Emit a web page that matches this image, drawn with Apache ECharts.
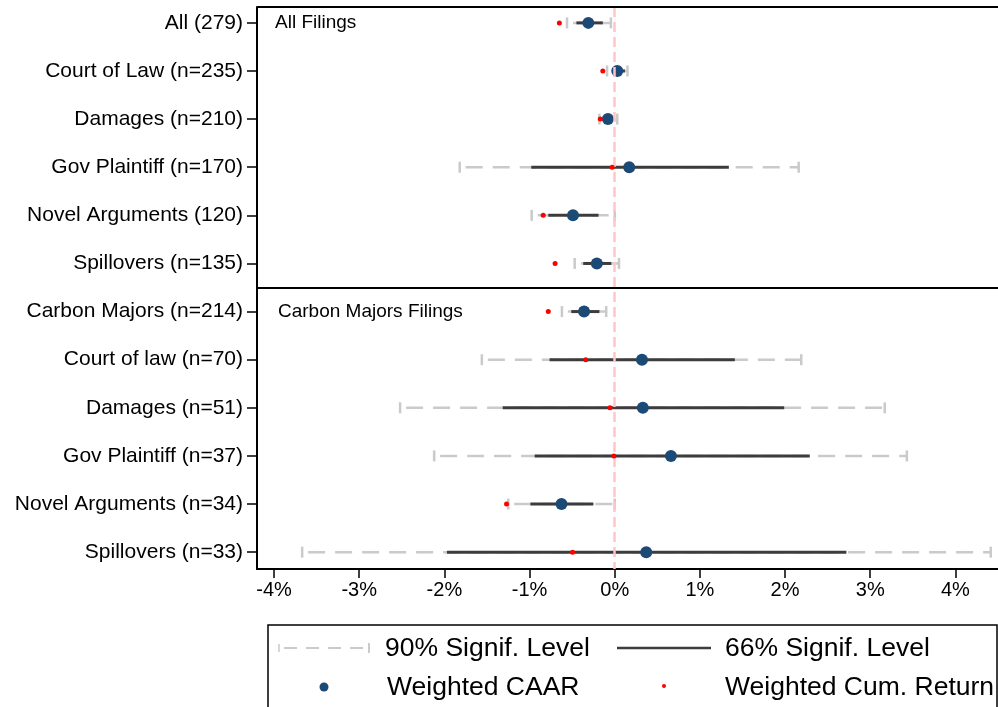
<!DOCTYPE html>
<html>
<head>
<meta charset="utf-8">
<script src="https://cdn.jsdelivr.net/npm/echarts@6/dist/echarts.min.js"></script>
<style>
  html, body { margin: 0; padding: 0; background: #fff; }
  #chart { width: 998px; height: 707px; }
</style>
</head>
<body>
<div id="chart"></div>
<script>
// rows, top to bottom
const categories = [
  'All (279)', 'Court of Law (n=235)', 'Damages (n=210)', 'Gov Plaintiff (n=170)',
  'Novel Arguments (120)', 'Spillovers (n=135)',
  'Carbon Majors (n=214)', 'Court of law (n=70)', 'Damages (n=51)', 'Gov Plaintiff (n=37)',
  'Novel Arguments (n=34)', 'Spillovers (n=33)'
];
// weighted CAAR (%)
const caar   = [-0.31, 0.03, -0.08, 0.17, -0.49, -0.21, -0.36, 0.32, 0.33, 0.66, -0.625, 0.37];
// weighted cumulative return (%)
const cumRet = [-0.65, -0.14, -0.17, -0.03, -0.84, -0.70, -0.78, -0.34, -0.056, -0.01, -1.27, -0.495];
// 90% bounds
const lo90 = [-0.56, -0.09, -0.18, -1.82, -0.975, -0.47, -0.62, -1.56, -2.52, -2.12, -1.25, -3.67];
const hi90 = [-0.045, 0.15, 0.03, 2.16, 0.0, 0.05, -0.10, 2.19, 3.17, 3.43, 0.0, 4.415];
// 66% bounds
const lo66 = [-0.45, -0.03, -0.15, -0.98, -0.78, -0.37, -0.51, -0.765, -1.315, -0.94, -0.99, -1.97];
const hi66 = [-0.14, 0.12, 0.0, 1.34, -0.19, -0.04, -0.18, 1.41, 1.99, 2.29, -0.25, 2.72];
const xTicks = [-4, -3, -2, -1, 0, 1, 2, 3, 4];
const panelLabels = ['All Filings', 'Carbon Majors Filings'];

const FONT = 'Liberation Sans, Arial, sans-serif';
const rowPos = categories.map((_, i) => i + 1);
const GREY = '#cacaca';
const DARK = '#3c3c3c';
const BLUE = '#1c4a76';

const chart = echarts.init(document.getElementById('chart'));

const ciData = categories.map((_, i) => [lo90[i], hi90[i], lo66[i], hi66[i], i + 1]);

function renderCI(params, api) {
  const y = api.value(4);
  const a = api.coord([api.value(0), y]);
  const b = api.coord([api.value(1), y]);
  const c = api.coord([api.value(2), y]);
  const d = api.coord([api.value(3), y]);
  const grey = {stroke: GREY, lineWidth: 2.5};
  return {
    type: 'group',
    children: [
      {type: 'line', shape: {x1: a[0], y1: a[1], x2: b[0], y2: b[1]},
        style: Object.assign({lineDash: [17, 10], lineDashOffset: -6}, grey)},
      {type: 'line', shape: {x1: a[0], y1: a[1] - 5.5, x2: a[0], y2: a[1] + 5.5}, style: grey},
      {type: 'line', shape: {x1: b[0], y1: b[1] - 5.5, x2: b[0], y2: b[1] + 5.5}, style: grey},
      {type: 'line', shape: {x1: c[0], y1: c[1], x2: d[0], y2: d[1]},
        style: {stroke: DARK, lineWidth: 3}}
    ]
  };
}

function legendText(x, y, text) {
  return {type: 'text', x: x, y: y,
    style: {text: text, font: '26.5px ' + FONT, fill: '#000', verticalAlign: 'middle'}};
}

const option = {
  animation: false,
  grid: {left: 257, right: 0, top: 7, bottom: 138},
  xAxis: {
    type: 'value', min: -4.2, max: 4.5,
    splitLine: {show: false},
    axisLine: {show: true, onZero: false, lineStyle: {color: '#000', width: 2}},
    axisTick: {show: true, length: 9, customValues: xTicks, lineStyle: {color: '#000', width: 1.5}},
    axisLabel: {customValues: xTicks, formatter: v => Math.round(v) + '%',
      color: '#000', fontFamily: FONT, fontSize: 20, margin: 11}
  },
  yAxis: {
    type: 'value', inverse: true, min: 0.67, max: 12.35,
    splitLine: {show: false},
    axisLine: {show: true, onZero: false, lineStyle: {color: '#000', width: 2}},
    axisTick: {show: true, length: 10, customValues: rowPos, lineStyle: {color: '#000', width: 1.5}},
    axisLabel: {customValues: rowPos, formatter: v => categories[Math.round(v) - 1] || '',
      color: '#000', fontFamily: FONT, fontSize: 21, margin: 14}
  },
  series: [
    {
      type: 'line', data: [], silent: true, z: 1,
      markLine: {
        symbol: 'none', silent: true, label: {show: false},
        lineStyle: {color: '#ffc6c6', width: 2.5, type: [10, 5]},
        data: [{xAxis: 0}]
      }
    },
    {
      type: 'line', data: [], silent: true, z: 6,
      markLine: {
        symbol: 'none', silent: true, label: {show: false},
        lineStyle: {color: '#000', width: 2, type: 'solid'},
        data: [{yAxis: 6.5}, {yAxis: 0.67}]
      }
    },
    {
      type: 'custom', renderItem: renderCI, data: ciData,
      encode: {x: [0, 1, 2, 3], y: 4}, z: 3
    },
    {
      type: 'scatter', data: caar.map((v, i) => [v, i + 1]),
      symbolSize: 12, itemStyle: {color: BLUE, opacity: 1}, z: 4
    },
    {
      type: 'scatter', data: cumRet.map((v, i) => [v, i + 1]),
      symbolSize: 5, itemStyle: {color: '#ff0000', opacity: 1}, z: 5
    }
  ],
  graphic: [
    {type: 'text', x: 275, y: 23, style: {text: panelLabels[0], font: '19px ' + FONT, fill: '#000', verticalAlign: 'middle'}},
    {type: 'text', x: 278, y: 312, style: {text: panelLabels[1], font: '19px ' + FONT, fill: '#000', verticalAlign: 'middle'}},
    // legend box
    {type: 'rect', shape: {x: 268, y: 625, width: 729, height: 100},
      style: {fill: '#fff', stroke: '#000', lineWidth: 1.5}},
    {type: 'line', shape: {x1: 279, y1: 648, x2: 369, y2: 648},
      style: {stroke: GREY, lineWidth: 2, lineDash: [13, 9], lineDashOffset: -5}},
    {type: 'line', shape: {x1: 279, y1: 644, x2: 279, y2: 652}, style: {stroke: GREY, lineWidth: 1.5}},
    {type: 'line', shape: {x1: 369, y1: 643, x2: 369, y2: 653}, style: {stroke: GREY, lineWidth: 2}},
    legendText(385, 649, '90% Signif. Level'),
    {type: 'line', shape: {x1: 617, y1: 648, x2: 711, y2: 648}, style: {stroke: DARK, lineWidth: 2.5}},
    legendText(725, 649, '66% Signif. Level'),
    {type: 'circle', shape: {cx: 324, cy: 687, r: 4.5}, style: {fill: BLUE}},
    legendText(387, 688, 'Weighted CAAR'),
    {type: 'circle', shape: {cx: 664, cy: 686, r: 2}, style: {fill: '#ff0000'}},
    legendText(725, 688, 'Weighted Cum. Return')
  ]
};

chart.setOption(option);
</script>
</body>
</html>
